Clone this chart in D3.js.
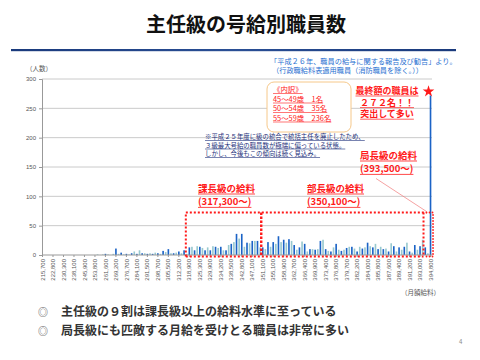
<!DOCTYPE html>
<html><head><meta charset="utf-8">
<script src="https://cdn.jsdelivr.net/npm/d3@7"></script>
<style>
html,body{margin:0;padding:0;background:#fff;}
svg{display:block;font-family:"Noto Sans CJK JP","Noto Sans",sans-serif;}
</style></head>
<body><svg id="c" width="480" height="360"></svg>
<script>
// ---- data ----
const tickLabels = ["215,700","222,800","230,300","238,100","245,900","253,800","261,600","269,200","276,700","284,100","291,500","298,700","305,500","312,200","318,900","325,300","329,900","334,200","338,500","342,800","347,100","351,100","355,100","358,900","362,700","366,400","369,900","373,400","376,800","379,700","382,200","384,000","385,800","387,600","389,400","391,200","393,000","394,800"];
const counts = [
 0,0,0,0,0,0,0,0,0,0,0,0,0,0,0,0,0,0,0,0,
 0,1,0,1,2,1,0,2,
 11,
 2,4,1,2,1,3,6,
 2,8,3,3,2,3,2,4,
 3,2,7,5,10,3,3,4,6,3,
 8,2,13,14,8,15,14,12,8,13,8,15,14,12,14,8,8,17,19,22,36,28,36,14,21,20,24,24,24,13,
 13,10,22,14,22,19,32,22,26,21,27,24,17,9,13,23,19,6,10,10,9,10,24,26,10,7,6,13,19,9,7,9,12,14,14,11,6,14,11,13,21,15,13,19,10,14,10,11,6,20,15,6,13,9,14,21,6,4,17,9,15,26,13,3,
 272
];
const yTicks = [0,50,100,150,200,250,300];
const breakdown = ["《内訳》","45～49歳　1名","50～54歳　35名","55～59歳　236名"];
const callout = ["最終額の職員は","２７２名！！","突出して多い"];
const noteLines = ["※平成２５年度に級の統合で統括主任を廃止したため、","３級最大号給の職員数が極端に偏っている状態。","しかし、今後もこの傾向は続く見込み。"];
const bullets = ["主任級の９割は課長級以上の給料水準に至っている","局長級にも匹敵する月給を受けとる職員は非常に多い"];

// ---- chart ----
const svg = d3.select("#c");
const idx = counts.map((d,i)=>i);
const x = d3.scaleBand().domain(idx).range([41.7, 41.7 + counts.length*2.615]).paddingInner(0.38);
const y = d3.scaleLinear().domain([0,300]).range([255,79]);
const cx = i => x(i) + x.bandwidth()/2;

// title
svg.append("text").attr("x",246).attr("y",32).attr("text-anchor","middle")
  .attr("font-size",20).attr("font-weight",700).attr("fill","#111").text("主任級の号給別職員数");
const grad = svg.append("defs").append("linearGradient").attr("id","rule");
grad.append("stop").attr("offset","0").attr("stop-color","#1a3a7c");
grad.append("stop").attr("offset","0.5").attr("stop-color","#2a4f95");
grad.append("stop").attr("offset","1").attr("stop-color","#1a3a7c");
svg.append("rect").attr("x",11).attr("y",49).attr("width",445).attr("height",2.2).attr("fill","url(#rule)");

// source note
svg.append("text").attr("x",270).attr("y",64).attr("font-size",7.2).attr("fill","#1f6fd1")
  .text("「平成２６年、職員の給与に関する報告及び勧告」より。");
svg.append("text").attr("x",272).attr("y",73).attr("font-size",7.2).attr("fill","#1f6fd1")
  .text("（行政職給料表適用職員（消防職員を除く。））");

svg.append("text").attr("x",26).attr("y",71).attr("font-size",6.5).attr("fill","#555").text("（人数）");

// grid
svg.append("g").selectAll("line").data(yTicks.filter(d=>d>0)).join("line")
  .attr("x1",42).attr("x2",432).attr("y1",d=>y(d)).attr("y2",d=>y(d))
  .attr("stroke","#bdbdbd").attr("stroke-width",0.8);

// y axis
const ya = svg.append("g").attr("transform","translate(42,0)")
  .call(d3.axisLeft(y).tickValues(yTicks).tickSize(3).tickPadding(3));
ya.selectAll("text").attr("font-size",6).attr("fill","#555").attr("font-family","Liberation Sans, sans-serif");
ya.selectAll("line,path").attr("stroke","#999");

// bars
svg.append("g").selectAll("rect").data(counts).join("rect")
  .attr("x",(d,i)=>x(i)).attr("width",x.bandwidth())
  .attr("y",d=>y(d)).attr("height",d=>y(0)-y(d))
  .attr("fill",(d,i)=> i%2===0 ? "#1b63c6" : "#98c9cf");

// x axis
const xa = svg.append("g").attr("transform","translate(0,255)")
  .call(d3.axisBottom(x).tickValues(idx.filter(i=>i%4===0)).tickFormat(i=>tickLabels[i/4]).tickSize(2).tickPadding(3));
xa.selectAll("path").attr("stroke","#999").attr("d","M42,0H432");
xa.selectAll("line").attr("stroke","#999");
xa.selectAll("text").attr("font-size",6).attr("fill","#555").attr("font-family","Liberation Sans, sans-serif")
  .attr("transform","rotate(-90)").attr("text-anchor","end").attr("dy","0.35em").attr("y",0).attr("x",-4);

svg.append("text").attr("x",440).attr("y",295).attr("text-anchor","end").attr("font-size",6.5).attr("fill","#555").text("（月額給料）");

// red dotted boxes
const boxTop = 212.5, boxBot = 256.5;
const xK = cx(56) - 3.5, xB = cx(84) - 1.5, xL = cx(148) - 7, xE = cx(148) + 1.5;
svg.append("path").attr("d",`M${xK},${boxBot}V${boxTop}H${xL+3}M${xK},${boxBot}H${xL}`)
  .attr("fill","none").attr("stroke","#ff1a1a").attr("stroke-width",2).attr("stroke-dasharray","2,2");
svg.append("line").attr("x1",xB).attr("x2",xB).attr("y1",boxTop).attr("y2",boxBot)
  .attr("stroke","#ff1a1a").attr("stroke-width",2.4).attr("stroke-dasharray","2.5,1.5");
svg.append("line").attr("x1",xL).attr("x2",xL).attr("y1",boxTop).attr("y2",boxBot)
  .attr("stroke","#ff1a1a").attr("stroke-width",2).attr("stroke-dasharray","2,2");
svg.append("path").attr("d",`M${xL+3},${boxTop}H${xE+1}V${boxBot}H${xL}`)
  .attr("fill","none").attr("stroke","#ff1a1a").attr("stroke-width",1.8).attr("stroke-linecap","round").attr("stroke-dasharray","0,3");

// multi-line underlined text block (one <text> with tspans)
function block(lines, xp, yp, lh, opts){
  const anchor = opts.anchor || "start";
  const t = svg.append("text").attr("x",xp).attr("y",yp).attr("font-size",opts.size)
    .attr("font-weight",opts.weight||400).attr("fill",opts.color).attr("text-anchor",anchor);
  lines.forEach((s,k)=>{
    const sp = t.append("tspan").attr("x",xp).attr("y",yp+k*lh).text(s);
    const w = sp.node().getComputedTextLength();
    const x0 = anchor==="middle" ? xp-w/2 : xp;
    svg.append("line").attr("x1",x0).attr("x2",x0+w).attr("y1",yp+k*lh+opts.ul).attr("y2",yp+k*lh+opts.ul)
      .attr("stroke",opts.color).attr("stroke-width",opts.uw);
  });
}
const red = "#ff1a1a";
block(["課長級の給料","(317,300～)"],198,192,13.4,{size:9.5,weight:700,color:red,ul:2,uw:0.8});
block(["部長級の給料","(350,100～)"],307,192,13.4,{size:9.5,weight:700,color:red,ul:2,uw:0.8});
block(["局長級の給料","(393,500～)"],360,159,13.4,{size:9.5,weight:700,color:red,ul:2,uw:0.8});

// pointer line
svg.append("line").attr("x1",376).attr("y1",178.5).attr("x2",cx(148)-4).attr("y2",211.5)
  .attr("stroke","#f07a7a").attr("stroke-width",0.7);

// breakdown box
svg.append("rect").attr("x",267).attr("y",82).attr("width",84).attr("height",50).attr("rx",7)
  .attr("fill","#fff").attr("stroke","#f6c88a").attr("stroke-width",1);
block(breakdown,273,92,9.5,{size:7.4,color:red,ul:1.5,uw:0.6});

// final-step callout
block(callout,387,94,11.6,{size:9,weight:700,color:red,ul:2,uw:0.7,anchor:"middle"});
svg.append("path").attr("transform",`translate(${cx(148)-2},${y(counts[148])-4})`)
  .attr("d",d3.symbol(d3.symbolStar,42)).attr("fill",red);

// note
block(noteLines,205,139,8.5,{size:6.4,color:"#1c2f7a",ul:1.5,uw:0.6});

// bullets
bullets.forEach((t,k)=>{
  svg.append("text").attr("x",43).attr("y",316+k*19).attr("text-anchor","middle").attr("font-size",10).attr("fill","#555").text("◎");
  svg.append("text").attr("x",61).attr("y",316+k*19).attr("font-size",12).attr("font-weight",700).attr("fill","#333").text(t);
});
svg.append("text").attr("x",459).attr("y",344).attr("font-size",6).attr("fill","#888").text("4");
</script></body></html>
